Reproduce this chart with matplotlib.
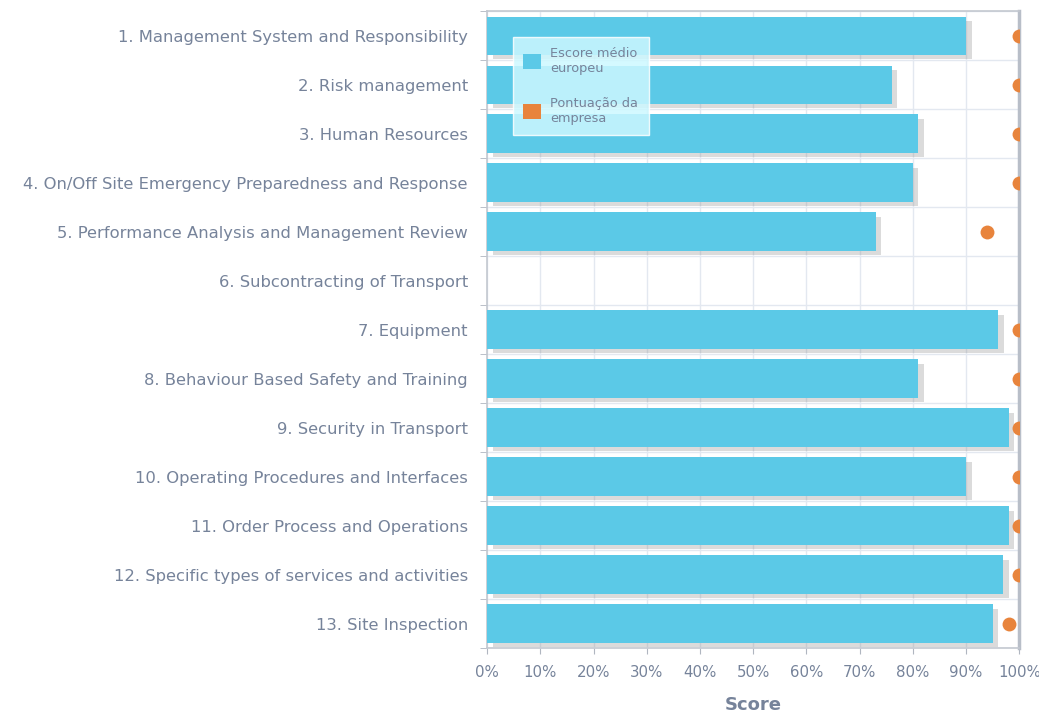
import numpy as np
import matplotlib
matplotlib.use("Agg")
from matplotlib import pyplot as plt, patheffects as pe
from matplotlib.patches import Patch
from matplotlib.ticker import FuncFormatter

CATEGORIES = [
    "1. Management System and Responsibility",
    "2. Risk management",
    "3. Human Resources",
    "4. On/Off Site Emergency Preparedness and Response",
    "5. Performance Analysis and Management Review",
    "6. Subcontracting of Transport",
    "7. Equipment",
    "8. Behaviour Based Safety and Training",
    "9. Security in Transport",
    "10. Operating Procedures and Interfaces",
    "11. Order Process and Operations",
    "12. Specific types of services and activities",
    "13. Site Inspection",
]
EURO_AVG = [90, 76, 81, 80, 73, None, 96, 81, 98, 90, 98, 97, 95]
COMPANY = [100, 100, 100, 100, 94, None, 100, 100, 100, 100, 100, 100, 98]

BAR_COLOR = "#5bc9e7"
DOT_COLOR = "#e8843c"
TEXT_COLOR = "#76839a"
GRID_COLOR = "#e3e8f0"

fig = plt.figure(figsize=(10.39, 7.18), dpi=100)
ax = fig.add_axes([0.469, 0.0975, 0.512, 0.887])

y = np.arange(len(CATEGORIES))
bar_vals = [v if v is not None else 0 for v in EURO_AVG]
bars = ax.barh(y, bar_vals, height=0.78, color=BAR_COLOR, zorder=3)
for b in bars:
    b.set_path_effects([pe.SimplePatchShadow(offset=(4, -3), shadow_rgbFace="#888888", alpha=0.3),
                        pe.Normal()])

dy = [yy for yy, v in zip(y, COMPANY) if v is not None]
dx = [v for v in COMPANY if v is not None]
ax.scatter(dx, dy, s=100, color=DOT_COLOR, zorder=4, clip_on=True, linewidths=0)

ax.set_xlim(0, 100)
ax.set_ylim(len(CATEGORIES) - 0.5, -0.5)

ax.set_xticks(np.arange(0, 101, 10))
ax.xaxis.set_major_formatter(FuncFormatter(lambda v, p: f"{int(v)}%"))
ax.set_yticks(y)
ax.set_yticklabels(CATEGORIES)
ax.set_yticks(np.arange(-0.5, len(CATEGORIES), 1), minor=True)

ax.tick_params(axis="y", which="major", length=0, pad=14, labelsize=11.8, labelcolor=TEXT_COLOR)
ax.tick_params(axis="y", which="minor", length=5, color="#b0b6c0")
ax.tick_params(axis="x", which="major", length=4, color="#b0b6c0", labelsize=10.8, labelcolor=TEXT_COLOR, pad=8)

ax.grid(axis="x", which="major", color=GRID_COLOR, linewidth=1, zorder=0)
ax.grid(axis="y", which="minor", color=GRID_COLOR, linewidth=1, zorder=0)
ax.set_axisbelow(True)

for side in ["left", "bottom", "top"]:
    ax.spines[side].set_color("#c3c8d0")
    ax.spines[side].set_linewidth(1.2)
ax.spines["right"].set_color("#b8bec8")
ax.spines["right"].set_linewidth(2.5)

ax.set_xlabel("Score", fontsize=13, fontweight="bold", color=TEXT_COLOR, labelpad=12)

handles = [Patch(facecolor=BAR_COLOR, edgecolor="none", label="Escore médio\neuropeu"),
           Patch(facecolor=DOT_COLOR, edgecolor="none", label="Pontuação da\nempresa")]
leg = ax.legend(handles=handles, loc="upper left", bbox_to_anchor=(0.036, 0.97),
                fontsize=9.3, labelcolor=TEXT_COLOR, frameon=True, fancybox=False,
                handlelength=1.4, handleheight=1.4, labelspacing=1.7,
                borderpad=0.8, handletextpad=0.7)
leg.get_frame().set_facecolor("#cdf8ff")
leg.get_frame().set_edgecolor("#ffffff")
leg.get_frame().set_alpha(0.85)
leg.set_zorder(5)

fig.savefig("out.png", dpi=100)
